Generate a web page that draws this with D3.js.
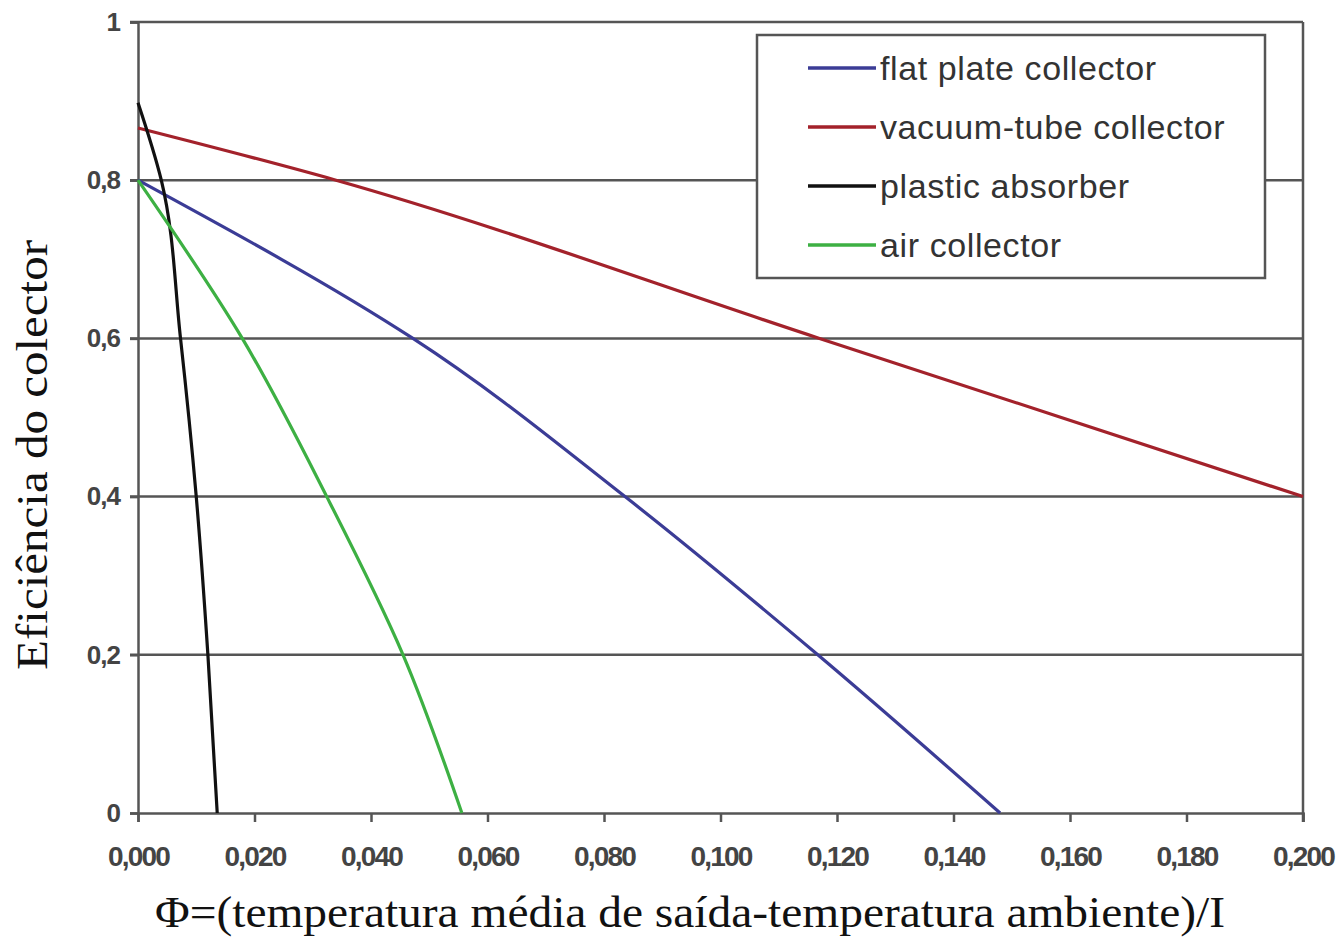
<!DOCTYPE html>
<html><head><meta charset="utf-8">
<script src="https://cdn.jsdelivr.net/npm/d3@7"></script>
<style>body{margin:0;background:#fff}</style>
</head><body>
<svg id="c" width="1344" height="942"></svg>
<script>
const seriesNames = ["flat plate collector","vacuum-tube collector","plastic absorber","air collector"];
const seriesColors = ["#3b3c96","#a3222b","#111111","#3db043"];
const flatPlate = [[0,0.80],[0.0472,0.60],[0.0836,0.40],[0.1167,0.20],[0.148,0]];
const vacuumTube = [[0,0.866],[0.034,0.80],[0.117,0.60],[0.2,0.40]];
const plasticAbsorber = [[0,0.898],[0.004,0.80],[0.0073,0.60],[0.0100,0.40],[0.0120,0.20],[0.0136,0]];
const airCollector = [[0,0.80],[0.0179,0.60],[0.0324,0.40],[0.0455,0.20],[0.0556,0]];
const xTicks = [0,0.02,0.04,0.06,0.08,0.10,0.12,0.14,0.16,0.18,0.20];
const yTicks = [0,0.2,0.4,0.6,0.8,1];
const allSeries = [flatPlate, vacuumTube, plasticAbsorber, airCollector];

const svg = d3.select("#c");
const L=138,R=1303,T=22,B=813;
const x = d3.scaleLinear().domain([0,0.2]).range([L,R]);
const y = d3.scaleLinear().domain([0,1]).range([B,T]);
const gridC="#555";

// gridlines
svg.append("g").selectAll("line").data(yTicks.filter(d=>d>0)).join("line")
  .attr("x1",L-8).attr("x2",R).attr("y1",d=>y(d)).attr("y2",d=>y(d))
  .attr("stroke",gridC).attr("stroke-width",2.5);

// axes
const yAxis = d3.axisLeft(y).tickValues(yTicks).tickSize(8).tickPadding(10)
  .tickFormat(d=>d===0?"0":d===1?"1":d3.format(".1f")(d).replace(".",","));
const gy = svg.append("g").attr("transform",`translate(${L},0)`).call(yAxis);
const xAxis = d3.axisBottom(x).tickValues(xTicks).tickSize(9).tickPadding(24)
  .tickFormat(d=>d3.format(".3f")(d).replace(".",","));
const gx = svg.append("g").attr("transform",`translate(0,${B})`).call(xAxis);
[gx,gy].forEach(g=>{
  g.select(".domain").attr("stroke",gridC).attr("stroke-width",2.5);
  g.selectAll(".tick line").attr("stroke",gridC).attr("stroke-width",2.5);
  g.selectAll(".tick text").attr("fill","#444").attr("font-family","Liberation Sans, Arial, sans-serif")
    .attr("font-weight","bold");
});
gy.selectAll(".tick text").attr("font-size",26).attr("letter-spacing","-1px");
gx.selectAll(".tick text").attr("font-size",28).attr("letter-spacing","-1.8px").attr("dy","0.71em");
// right border
svg.append("line").attr("x1",R).attr("x2",R).attr("y1",T).attr("y2",B+9)
  .attr("stroke",gridC).attr("stroke-width",2.5);

// series lines
const lineY = d3.line().x(d=>x(d[0])).y(d=>y(d[1])).curve(d3.curveMonotoneY);
const lineX = d3.line().x(d=>x(d[0])).y(d=>y(d[1])).curve(d3.curveMonotoneX);
allSeries.forEach((s,i)=>{
  svg.append("path").datum(s).attr("d", i===1?lineX:lineY).attr("fill","none")
    .attr("stroke",seriesColors[i]).attr("stroke-width",3.2).attr("stroke-linejoin","round");
});

// legend
const lg = svg.append("g");
lg.append("rect").attr("x",757).attr("y",35).attr("width",508).attr("height",243)
  .attr("fill","#fff").attr("stroke",gridC).attr("stroke-width",2.5);
seriesNames.forEach((n,i)=>{
  const yy = 68 + i*59;
  lg.append("line").attr("x1",808).attr("x2",876).attr("y1",yy).attr("y2",yy)
    .attr("stroke",seriesColors[i]).attr("stroke-width",3.5);
  lg.append("text").attr("x",880).attr("y",yy).attr("dy","0.35em")
    .attr("font-family","Liberation Sans, Arial, sans-serif").attr("font-size",34)
    .attr("letter-spacing","0.6px").attr("fill","#333").text(n);
});

// axis titles
svg.append("text").attr("x",690).attr("y",927).attr("text-anchor","middle")
  .attr("font-family","Liberation Serif, Times New Roman, serif").attr("font-size",44)
  .attr("textLength",1070).attr("lengthAdjust","spacingAndGlyphs")
  .attr("fill","#111").text("Φ=(temperatura média de saída-temperatura ambiente)/I");
svg.append("text").attr("transform","translate(47,455) rotate(-90)").attr("text-anchor","middle")
  .attr("font-family","Liberation Serif, Times New Roman, serif").attr("font-size",44)
  .attr("textLength",430).attr("lengthAdjust","spacingAndGlyphs")
  .attr("fill","#111").text("Eficiência do colector");
</script>
</body></html>
